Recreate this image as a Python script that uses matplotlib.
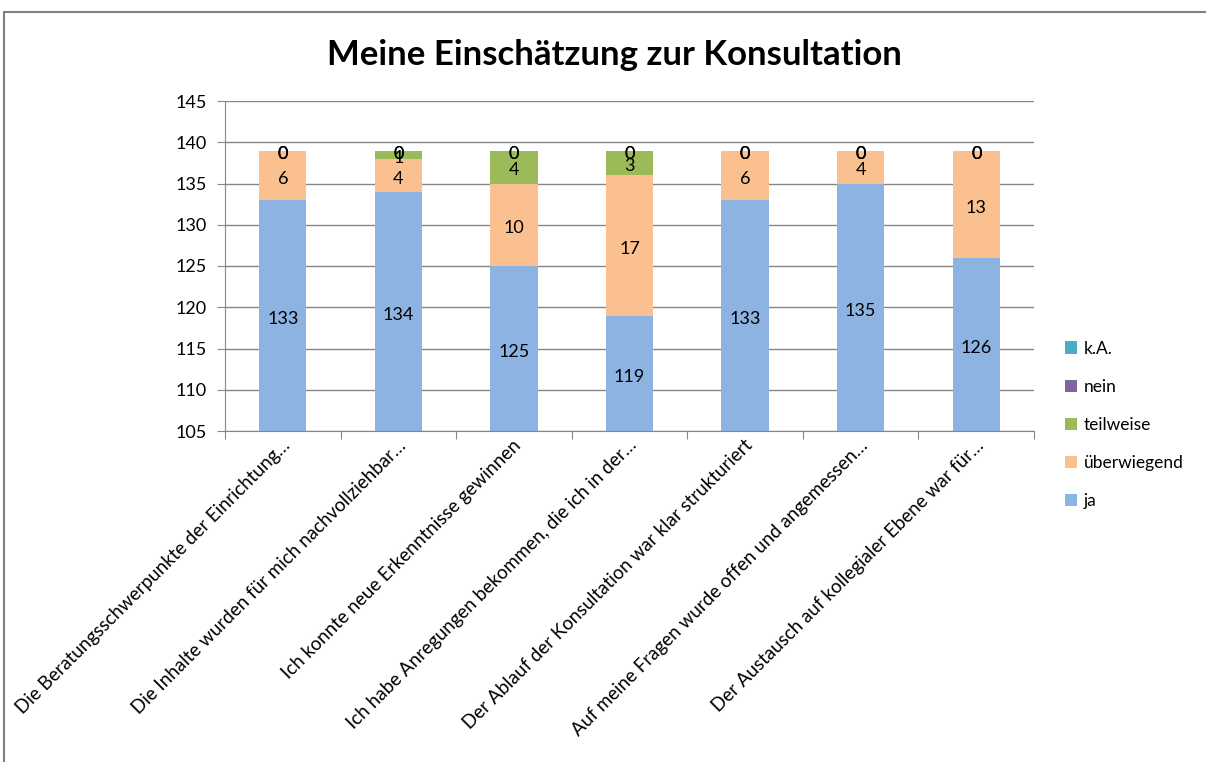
import matplotlib
matplotlib.use("Agg")
import matplotlib.pyplot as plt
import numpy as np
from matplotlib.patches import Patch
from matplotlib.lines import Line2D

plt.rcParams['font.family'] = ['Lato', 'DejaVu Sans']

categories = [
    "Die Beratungsschwerpunkte der Einrichtung…",
    "Die Inhalte wurden für mich nachvollziehbar…",
    "Ich konnte neue Erkenntnisse gewinnen",
    "Ich habe Anregungen bekommen, die ich in der…",
    "Der Ablauf der Konsultation war klar strukturiert",
    "Auf meine Fragen wurde offen und angemessen…",
    "Der Austausch auf kollegialer Ebene war für…",
]
series_names = ["ja", "überwiegend", "teilweise", "nein", "k.A."]
ja = [133, 134, 125, 119, 133, 135, 126]
ueberwiegend = [6, 4, 10, 17, 6, 4, 13]
teilweise = [0, 1, 4, 3, 0, 0, 0]
nein = [0, 0, 0, 0, 0, 0, 0]
ka = [0, 0, 0, 0, 0, 0, 0]
colors = ["#8DB3E2", "#FAC090", "#9BBB59", "#8064A2", "#4BACC6"]
yticks = [105, 110, 115, 120, 125, 130, 135, 140, 145]

fig = plt.figure(figsize=(12.06, 7.62), dpi=100)
W, H = 1206, 762
ax = fig.add_axes([225 / W, 1 - 431 / H, (1034 - 225) / W, (431 - 101) / H])

x = np.arange(len(categories))
ymin, ymax = 105, 145
bottom = np.zeros(len(categories))
data = [ja, ueberwiegend, teilweise, nein, ka]
for vals, col, name in zip(data, colors, series_names):
    vals = np.array(vals, dtype=float)
    ax.bar(x, vals, bottom=bottom, width=0.41, color=col, zorder=2, label=name)
    for xi, b, v in zip(x, bottom, vals):
        top = b + v
        lo = max(b, ymin)
        yc = (lo + top) / 2
        ax.annotate(f"{int(v)}", xy=(xi, yc), xytext=(0, -2.5),
                    textcoords='offset points', ha='center', va='center',
                    fontsize=13, color='black', zorder=3)
    bottom = bottom + vals

ax.set_ylim(ymin, ymax)
ax.set_xlim(-0.5, len(categories) - 0.5)
ax.set_yticks(yticks)
ax.set_yticklabels([str(t) for t in yticks], fontsize=13)
ax.yaxis.grid(True, color='#868686', linewidth=1, zorder=0)
ax.set_axisbelow(True)
for s in ['top', 'right']:
    ax.spines[s].set_visible(False)
ax.spines['left'].set_color('#868686')
ax.spines['bottom'].set_color('#868686')
ax.tick_params(axis='y', direction='out', length=6, color='#868686', pad=7)
# x ticks at boundaries
ax.set_xticks(np.arange(-0.5, len(categories) + 0.5, 1))
ax.set_xticklabels([])
ax.tick_params(axis='x', direction='out', length=6, color='#868686')
for xi, lab in zip(x, categories):
    ax.annotate(lab, xy=(xi, ymin), xycoords='data', xytext=(-1, -4),
                textcoords='offset points', rotation=45, ha='right', va='top',
                rotation_mode='anchor', fontsize=13.5, annotation_clip=False)

fig.text(614 / W, 1 - 55 / H, "Meine Einschätzung zur Konsultation", ha='center',
         va='center', fontsize=25, fontweight='bold')

handles = [Patch(facecolor=c, edgecolor='none') for c in colors][::-1]
labels = series_names[::-1]
fig.legend(handles, labels, loc='center left', bbox_to_anchor=(1049 / W, 1 - 425 / H),
           frameon=False, fontsize=12.5, handlelength=0.7, handleheight=0.7,
           labelspacing=1.28, handletextpad=0.4)

# outer border lines
fig.add_artist(Line2D([4 / W, 1], [1 - 12 / H, 1 - 12 / H], color='#808080', linewidth=1.5))
fig.add_artist(Line2D([4 / W, 4 / W], [0, 1 - 12 / H], color='#808080', linewidth=1.5))

fig.savefig("out.png", dpi=100)
